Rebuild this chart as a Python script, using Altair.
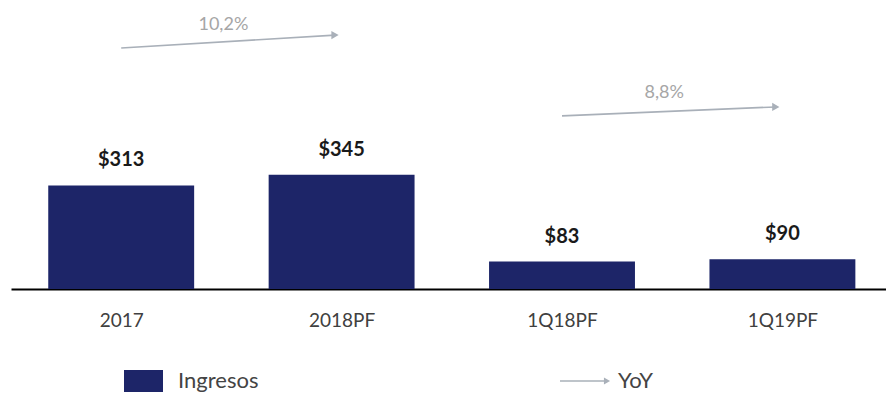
import altair as alt
import pandas as pd

# ---- data ----
categories = ["2017", "2018PF", "1Q18PF", "1Q19PF"]
ingresos = [313, 345, 83, 90]

yoy_labels = ["10,2%", "8,8%"]
yoy_from = ["2017", "1Q18PF"]
yoy_to = ["2018PF", "1Q19PF"]
# annotation levels (in value units) for the YoY arrows
yoy_level_start = [728, 523]
yoy_level_end = [767, 550]
yoy_label_level = [798, 592]

legend_series = ["Ingresos", "YoY"]

NAVY = "#1d2568"
ARROW = "#a9b0b9"
FONT = "Lato"
BAR_HALF = 0.331
Y_MAX = 873

bars_df = pd.DataFrame({
    "cat": categories,
    "idx": list(range(len(categories))),
    "value": ingresos,
    "zero": [0] * len(categories),
    "label": ["$" + str(v) for v in ingresos],
})

yoy_df = pd.DataFrame({
    "label": yoy_labels,
    "x0": [categories.index(c) for c in yoy_from],
    "x1": [categories.index(c) for c in yoy_to],
    "y0": yoy_level_start,
    "y1": yoy_level_end,
    "ly": yoy_label_level,
})

label_expr = "[" + ",".join("'%s'" % c for c in categories) + "][datum.value]"

xscale = alt.Scale(domain=[-0.5, 3.47], nice=False, zero=False)
yscale = alt.Scale(domain=[0, Y_MAX], nice=False)

base_bars = alt.Chart(bars_df)

bars = base_bars.mark_bar(color=NAVY).transform_calculate(
    xa="datum.idx - %f" % BAR_HALF, xb="datum.idx + %f" % BAR_HALF
).encode(
    x=alt.X("xa:Q", scale=xscale,
            axis=alt.Axis(values=list(range(len(categories))), labelExpr=label_expr,
                          title=None, grid=False, ticks=False, domain=True,
                          domainColor="#000000", domainWidth=2,
                          labelFont=FONT, labelFontSize=19, labelColor="#404040",
                          labelPadding=22, labelAngle=0)),
    x2="xb:Q",
    y=alt.Y("value:Q", scale=yscale, axis=None),
    y2="zero:Q",
)

values = base_bars.mark_text(font=FONT, fontSize=20, fontWeight="bold", color="#1a1a1a",
                             baseline="middle", dy=-25).encode(
    x=alt.X("idx:Q", scale=xscale),
    y=alt.Y("value:Q", scale=yscale),
    text="label:N",
)

yoy_base = alt.Chart(yoy_df).transform_calculate(
    xe="datum.x1 - 0.03"
)

arrows = yoy_base.mark_rule(strokeWidth=1.6, color=ARROW).encode(
    x=alt.X("x0:Q", scale=xscale),
    x2="xe:Q",
    y=alt.Y("y0:Q", scale=yscale),
    y2="y1:Q",
)

heads = yoy_base.mark_point(shape="triangle-right", filled=True, size=70,
                            color=ARROW, opacity=1).encode(
    x=alt.X("xe:Q", scale=xscale),
    y=alt.Y("y1:Q", scale=yscale),
)

yoy_text = yoy_base.mark_text(font=FONT, fontSize=18, color="#a6a6a6",
                              baseline="middle", dx=-8).transform_calculate(
    xm="(datum.x0 + datum.x1) / 2"
).encode(
    x=alt.X("xm:Q", scale=xscale),
    y=alt.Y("ly:Q", scale=yscale),
    text="label:N",
)

# ---- legend drawn below the plot ----
leg = alt.Chart(pd.DataFrame({"name": legend_series}))
leg_swatch = leg.transform_filter("datum.name == 'Ingresos'").mark_rect(color=NAVY).encode(
    x=alt.value(113), x2=alt.value(152), y=alt.value(370), y2=alt.value(392))
leg_line = leg.transform_filter("datum.name == 'YoY'").mark_rule(
    color=ARROW, strokeWidth=1.5).encode(
    x=alt.value(549), x2=alt.value(594), y=alt.value(381), y2=alt.value(381))
leg_head = leg.transform_filter("datum.name == 'YoY'").mark_point(
    shape="triangle-right", filled=True, size=50, color=ARROW, opacity=1).encode(
    x=alt.value(596), y=alt.value(381))
leg_text1 = leg.transform_filter("datum.name == 'Ingresos'").mark_text(
    font=FONT, fontSize=22, color="#444444", align="left", baseline="middle").encode(
    x=alt.value(167), y=alt.value(381), text="name:N")
leg_text2 = leg.transform_filter("datum.name == 'YoY'").mark_text(
    font=FONT, fontSize=22, color="#444444", align="left", baseline="middle").encode(
    x=alt.value(607), y=alt.value(381), text="name:N")

chart = alt.layer(bars, arrows, heads, values, yoy_text,
                  leg_swatch, leg_line, leg_head, leg_text1, leg_text2).properties(
    width=875, height=289,
    autosize=alt.AutoSizeParams(type="none"),
    padding={"left": 11, "top": 0, "right": 0, "bottom": 106},
    background="white",
).configure_view(stroke=None)

chart.save("out.html", embed_options={"renderer": "svg", "actions": False})
